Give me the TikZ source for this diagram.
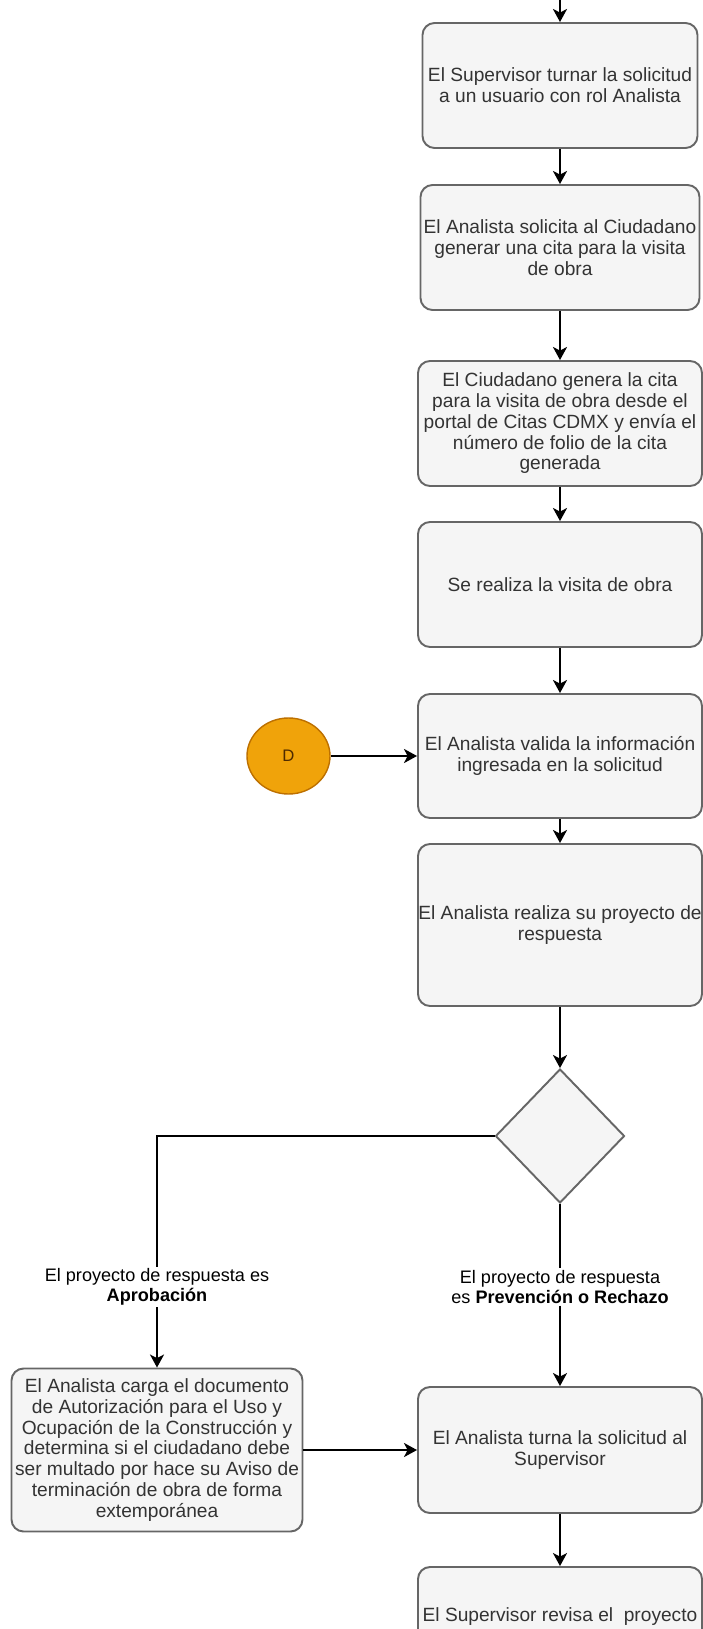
\documentclass[tikz,border=0pt]{standalone}
\usepackage{fontspec}
\setmainfont{Liberation Sans}
\usetikzlibrary{arrows.meta,shapes.geometric}
\definecolor{boxfill}{HTML}{F5F5F5}
\definecolor{boxline}{HTML}{666666}
\definecolor{boxtext}{HTML}{333333}
\definecolor{dfill}{HTML}{F0A30A}
\definecolor{dline}{HTML}{BD7000}
\definecolor{dtext}{HTML}{4D2A00}

\begin{document}
\begin{tikzpicture}[x=0.2mm,y=-0.2mm,
    proc/.style={draw=boxline,fill=boxfill,line width=1.1pt,rounded corners=2.4mm,text=boxtext,align=center,inner sep=0pt,font=\fontsize{10.9}{11.8}\selectfont},
    cond/.style={diamond,draw=boxline,fill=boxfill,line width=1.1pt,inner sep=0pt,minimum width=25.8mm,minimum height=26.8mm},
    conn/.style={ellipse,draw=dline,fill=dfill,line width=0.8pt,text=dtext,inner sep=0pt,minimum width=16.6mm,minimum height=15.2mm,font=\fontsize{9.5}{11}\selectfont},
    lbl/.style={fill=white,align=center,inner sep=1pt,font=\fontsize{10.3}{11.3}\selectfont},
    flow/.style={line width=1.05pt,-{Stealth[length=7.4pt,width=8pt,inset=2pt]}},
    seg/.style={line width=1.05pt}]
  \useasboundingbox (0,0) rectangle (703,1629);
  \clip (0,0) rectangle (703,1629);
  \coordinate (start) at (560,0);
  \node[proc,minimum width=55mm,minimum height=25mm] (turnar) at (560,85.5) {El Supervisor turnar la solicitud\\a un usuario con rol Analista};
  \node[proc,minimum width=55.8mm,minimum height=25mm] (pidecita) at (560,247.5) {El Analista solicita al Ciudadano\\generar una cita para la visita\\de obra};
  \node[proc,minimum width=56.8mm,minimum height=25mm] (generacita) at (560,423.5) {El Ciudadano genera la cita\\para la visita de obra desde el\\portal de Citas CDMX y envía el\\número de folio de la cita\\generada};
  \node[proc,minimum width=56.8mm,minimum height=25mm] (visita) at (560,584.5) {Se realiza la visita de obra};
  \node[proc,minimum width=56.8mm,minimum height=24.8mm] (valida) at (560,756) {El Analista valida la información\\ingresada en la solicitud};
  \node[conn] (D) at (288.5,756) {D};
  \node[proc,minimum width=56.8mm,minimum height=32.4mm] (proyecto) at (560,925) {El Analista realiza su proyecto de\\respuesta};
  \node[cond] (tipo) at (560,1136) {};
  \node[lbl] (aprob) at (157,1287) {El proyecto de respuesta es\\\textbf{Aprobación}};
  \node[lbl] (prevre) at (560,1287) {El proyecto de respuesta\\es \textbf{Prevención o Rechazo}};
  \node[proc,minimum width=58.2mm,minimum height=32.6mm] (carga) at (157,1450) {El Analista carga el documento\\de Autorización para el Uso y\\Ocupación de la Construcción y\\determina si el ciudadano debe\\ser multado por hace su Aviso de\\terminación de obra de forma\\extemporánea};
  \node[proc,minimum width=56.8mm,minimum height=25.2mm] (turna) at (560,1450) {El Analista turna la solicitud al\\Supervisor};
  \node[proc,minimum width=56.8mm,minimum height=20mm] (revisa) at (560,1617) {El Supervisor revisa el~ proyecto};

  \draw[flow] (start) -- (turnar.north);
  \draw[flow] (turnar) -- (pidecita);
  \draw[flow] (pidecita) -- (generacita);
  \draw[flow] (generacita) -- (visita);
  \draw[flow] (visita) -- (valida);
  \draw[flow] (D) -- (valida);
  \draw[flow] (valida) -- (proyecto);
  \draw[flow] (proyecto) -- (tipo);
  \draw[seg] (tipo.west) -| (aprob.north);
  \draw[flow] (aprob) -- (carga);
  \draw[seg] (tipo.south) -- (prevre.north);
  \draw[flow] (prevre) -- (turna);
  \draw[flow] (carga) -- (turna);
  \draw[flow] (turna) -- (revisa);
\end{tikzpicture}
\end{document}
